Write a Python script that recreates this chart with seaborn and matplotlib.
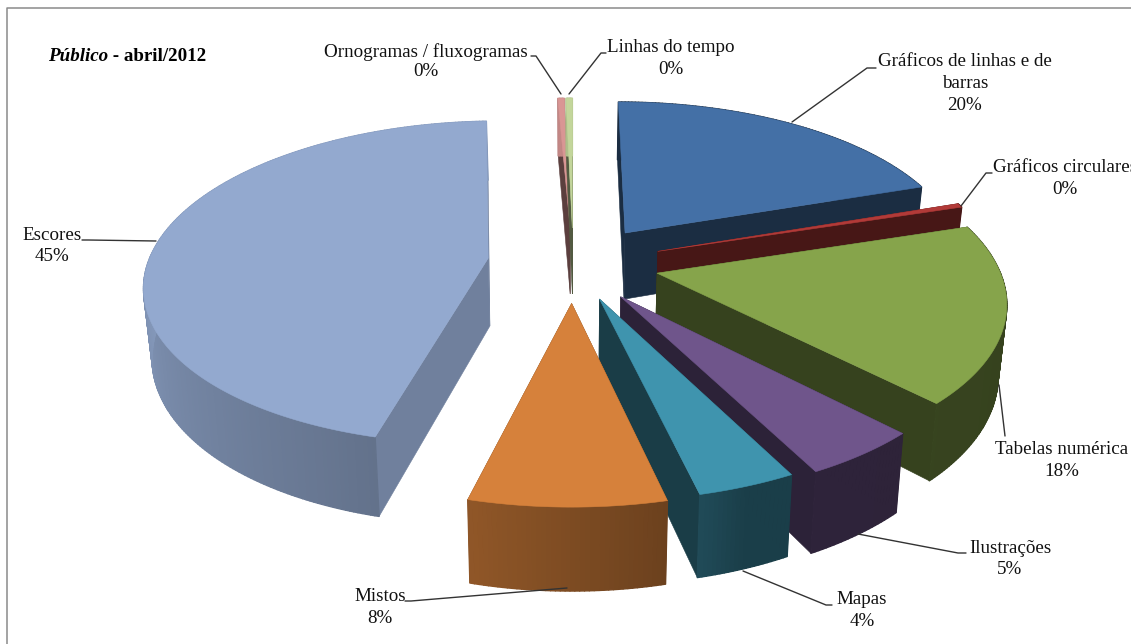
import numpy as np
import matplotlib
matplotlib.use("Agg")
import matplotlib.pyplot as plt
from matplotlib.collections import PolyCollection
from matplotlib.patches import Polygon
import seaborn as sns

# ---- data -------------------------------------------------------------
categories = ["Gráficos de linhas e de\nbarras", "Gráficos circulares", "Tabelas numérica",
              "Ilustrações", "Mapas", "Mistos", "Escores",
              "Ornogramas / fluxogramas", "Linhas do tempo"]
values = [19.8, 0.4, 17.5, 4.7, 3.9, 7.7, 45.3, 0.35, 0.35]
percent_labels = ["20%", "0%", "18%", "5%", "4%", "8%", "45%", "0%", "0%"]
colors = ["#4470A6", "#B23A38", "#86A44B", "#6F558B", "#3F94AE",
          "#D6813B", "#93A9CF", "#D99694", "#C3D69B"]
explode = [0.268, 0.27, 0.248, 0.228, 0.21, 0.222, 0.256, 0.25, 0.25]
explode_dir = [36, 69, 99.4, 143.4, 159, 181, 282, 358, 359.5]
cut_shade = [0.40, 0.40, 0.40, 0.40, 0.41, 0.50, 0.76, 0.42, 0.42]
draw_order = [7, 8, 6, 0, 1, 2, 3, 4, 5]

# ---- text / leader layout (pixels) -------------------------------------
label_xy = [(965, 66), (1065, 172), (1062, 454), (1010, 553), (862, 604),
            (380, 601), (52, 240), (426, 57), (671, 52)]
line_gap = [22, 22, 22, 21, 22, 22, 21, 19, 22]
leaders = [[(792, 122), (867, 68), (876, 68)],
           [(961, 206), (986, 173), (992, 173)],
           [(999, 385), (1005, 436)],
           [(858, 534), (958, 553), (966, 553)],
           [(743, 571), (826, 605), (832, 605)],
           [(567, 588), (411, 601), (405, 601)],
           [(156, 241), (88, 240), (82, 240)],
           [(561, 94), (536, 56), (531, 56)],
           [(569, 94), (601, 53), (606, 53)]]

# ---- projection of the pie plane ----------------------------------------
CX, CY_WORLD, FX, HORIZON, KY, DEPTH = 573.0, 0.154, 349.5, -788.8, 1080.7, 0.1555
WALL, TAPER = 70.0, 0.98


def top(X, Y):
    d = 1 + DEPTH * (Y + CY_WORLD)
    return CX + FX * X / d, HORIZON + KY / d, d


def both(X, Y):
    x, y, d = top(X, Y)
    return (x, y), (CX + TAPER * (x - CX), y + WALL / d)


def shade(theta):
    return np.interp(theta, [100, 160, 166, 194, 202, 270, 300], [.40, .42, .50, .67, .70, .90, .90])


def scaled(c, f):
    return tuple(np.clip(np.array(matplotlib.colors.to_rgb(c)) * f, 0, 1))


sns.set_theme(style="white")
plt.rcParams["font.family"] = ["Liberation Serif", "DejaVu Serif"]
palette = sns.color_palette(colors)

fig = plt.figure(figsize=(11.31, 6.44), dpi=100)
ax = fig.add_axes([0, 0, 1, 1])
ax.set_xlim(0, 1131)
ax.set_ylim(644, 0)
ax.axis("off")

ax.plot([6.5, 6.5, 1131], [644, 7.5, 7.5], color="#8a8a8a", lw=1.1)

fractions = np.asarray(values) / np.sum(values)
ends = np.cumsum(fractions) * 360
starts = ends - fractions * 360

for z, i in enumerate(draw_order):
    a0, a1 = starts[i], ends[i]
    direction = np.radians(explode_dir[i])
    ax_, ay_ = explode[i] * np.sin(direction), explode[i] * np.cos(direction)
    th = np.linspace(a0, a1, max(int((a1 - a0) * 1.5), 4) + 1)
    px = ax_ + np.sin(np.radians(th))
    py = ay_ + np.cos(np.radians(th))
    rim = [both(a, b) for a, b in zip(px, py)]
    apex_t, apex_b = both(ax_, ay_)
    # cut faces
    cut = scaled(palette[i], cut_shade[i])
    for corner in (rim[-1], rim[0]):
        ax.add_patch(Polygon([apex_t, corner[0], corner[1], apex_b], closed=True,
                             fc=cut, ec=cut, lw=0.4, zorder=10 + z))
    # outer wall with stepped shading
    quads, cols = [], []
    for k in range(len(th) - 1):
        quads.append([rim[k][0], rim[k + 1][0], rim[k + 1][1], rim[k][1]])
        cols.append(scaled(palette[i], shade((th[k] + th[k + 1]) / 2)))
    ax.add_collection(PolyCollection(quads, facecolors=cols, edgecolors=cols, linewidths=1.0,
                                     zorder=10 + z))
    # top face
    ax.add_patch(Polygon([apex_t] + [r[0] for r in rim], closed=True, fc=palette[i], ec=palette[i],
                         lw=0.4, zorder=10 + z))

for name, pct, (x, y), gap, line in zip(categories, percent_labels, label_xy, line_gap, leaders):
    for k, row in enumerate((name + "\n" + pct).split("\n")):
        ax.text(x, y + gap * k, row, va="baseline", ha="center", fontsize=13.7, color="#111111",
                zorder=60, clip_on=False)
    xs, ys = zip(*line)
    ax.plot(xs, ys, color="#333333", lw=1.0, zorder=55)

fig.canvas.draw()
t1 = ax.text(48, 61, "Público", fontsize=13.7, style="italic", weight="bold", color="black", zorder=60)
w = t1.get_window_extent(fig.canvas.get_renderer()).width
ax.text(48 + w, 61, " - abril/2012", fontsize=13.7, weight="bold", color="black", zorder=60)

fig.savefig("out.png", dpi=100, facecolor="white")
